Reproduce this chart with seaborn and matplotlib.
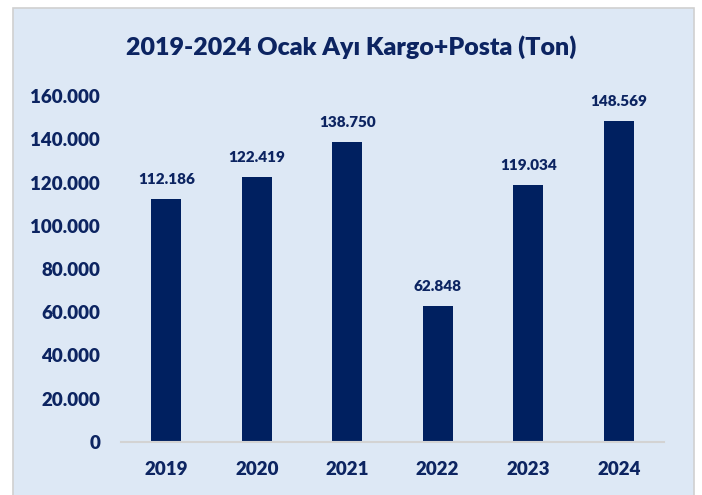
#%% IMPORTS
from matplotlib import pyplot as plt
from matplotlib.patches import Rectangle
from matplotlib.ticker import FuncFormatter
import pandas as pd
import seaborn as sns

#%% DATA
years = ["2019", "2020", "2021", "2022", "2023", "2024"]
tonnage = [112186, 122419, 138750, 62848, 119034, 148569]
y_ticks = [0, 20000, 40000, 60000, 80000, 100000, 120000, 140000, 160000]

#%% STYLE
NAVY = "#002060"
TEXT = "#0c2461"
PANEL = "#dde8f5"
WEIGHT = "heavy"

sns.set_style("white")
plt.rcParams["font.family"] = ["Lato", "DejaVu Sans"]
plt.rcParams["font.weight"] = WEIGHT


def tr_thousands(v, _pos=None):
    """Turkish style thousands separator."""
    return f"{int(round(v)):,}".replace(",", ".")


#%% PLOT
df = pd.DataFrame({"year": years, "ton": tonnage})

fig = plt.figure(figsize=(7.02, 4.95), dpi=100)
fig.patch.set_facecolor("white")
fig.patches.append(Rectangle((13 / 702, -0.01), (694 - 13) / 702, (495 - 8) / 495 + 0.01,
                             transform=fig.transFigure, facecolor=PANEL,
                             edgecolor="#d0d0d0", linewidth=1.2, zorder=-10))

ax = fig.add_axes([121 / 702, (495 - 442) / 495, (664 - 121) / 702, (442 - 96) / 495])
ax.set_facecolor("none")

sns.barplot(data=df, x="year", y="ton", color=NAVY, width=0.33, saturation=1,
            linewidth=0, ax=ax)

ax.set_xlim(-0.5, 5.5)
ax.set_ylim(0, 160000)
ax.set_yticks(y_ticks)
ax.yaxis.set_major_formatter(FuncFormatter(tr_thousands))

for i, v in enumerate(tonnage):
    ax.text(i, v + 6000, tr_thousands(v), ha="center", va="bottom",
            fontsize=11, fontweight=WEIGHT, color=TEXT)

for side in ["top", "right", "left"]:
    ax.spines[side].set_visible(False)
ax.spines["bottom"].set_color("#d3d3d3")
ax.spines["bottom"].set_linewidth(1.5)

ax.tick_params(axis="both", length=0, labelsize=13.5, labelcolor=TEXT)
ax.tick_params(axis="y", pad=15)
ax.tick_params(axis="x", pad=14)
for lbl in ax.get_xticklabels() + ax.get_yticklabels():
    lbl.set_fontweight(WEIGHT)
ax.set_xlabel("")
ax.set_ylabel("")

fig.text(0.5, (495 - 47) / 495, "2019-2024 Ocak Ayı Kargo+Posta (Ton)",
         ha="center", va="center", fontsize=18, fontweight=WEIGHT, color=TEXT)

fig.savefig("out.png", dpi=100)
